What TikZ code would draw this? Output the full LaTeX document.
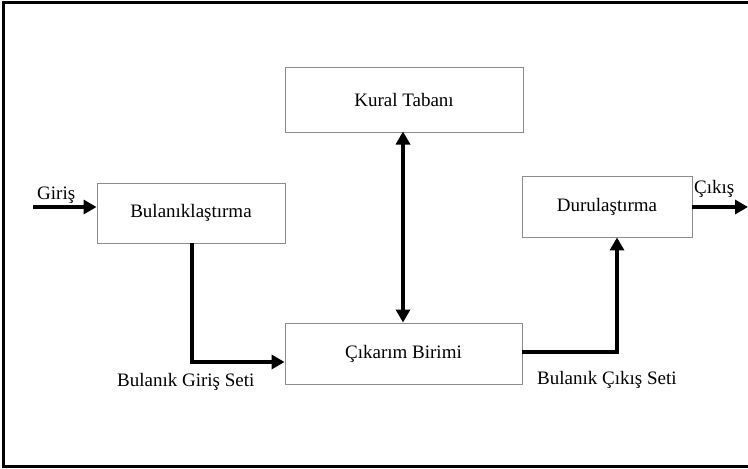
\documentclass[tikz,border=0pt]{standalone}
\usepackage{fontspec}
\setmainfont{Liberation Serif}
\usetikzlibrary{arrows.meta}
\begin{document}
\begin{tikzpicture}[x=1pt,y=-1pt,
  blk/.style={draw=black!45,line width=0.9pt,fill=white,inner sep=0pt,font=\fontsize{19}{22}\selectfont},
  flow/.style={line width=4.5pt,-{Triangle[length=13pt,width=14pt]}},
  lbl/.style={font=\fontsize{19}{22}\selectfont,inner sep=0pt}]
\useasboundingbox (0,0) rectangle (748,469);
\draw[line width=3pt] (760,2.5) -- (3.5,2.5) -- (3.5,466.5) -- (760,466.5);
\node[blk,minimum width=238pt,minimum height=65pt] (kural) at (404,99.5) {Kural Tabanı};
\node[blk,minimum width=188pt,minimum height=60pt] (bul) at (191,213) {Bulanıklaştırma};
\node[blk,minimum width=170pt,minimum height=61pt] (dur) at (607,206.5) {Durulaştırma};
\node[blk,minimum width=237pt,minimum height=61pt] (cik) at (403.5,353.5) {Çıkarım Birimi};
\coordinate (in) at (33,207);
\coordinate (out) at (748,207);
\draw[flow] (in) -- (bul.west |- in);
\node[lbl,anchor=base west] (giris) at (37,199) {Giriş};
\draw[flow] (dur.east |- out) -- (out);
\node[lbl,anchor=base west] (cikis) at (694,193) {Çıkış};
\draw[line width=4.5pt,{Triangle[length=13pt,width=14pt]}-{Triangle[length=13pt,width=14pt]}] (403,131.5) -- (403,322.5);
\draw[flow] (192,243) |- (cik.west |- 0,362);
\coordinate (c1) at (522,352);
\draw[flow] (c1) -| (dur.south -| 617,0);
\node[lbl,anchor=base west] (bgs) at (117,386) {Bulanık Giriş Seti};
\node[lbl,anchor=base west] (bcs) at (537,384) {Bulanık Çıkış Seti};
\end{tikzpicture}
\end{document}
